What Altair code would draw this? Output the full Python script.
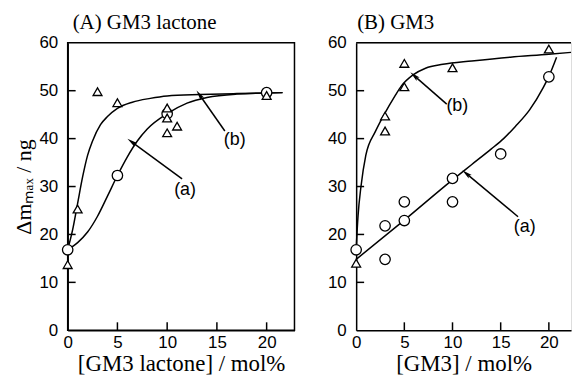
import altair as alt
import pandas as pd
import numpy as np

# ---------------- Panel A: GM3 lactone ----------------
a_tri_x = [0, 1, 3, 5, 10, 10, 10, 11, 20]
a_tri_y = [13.7, 25.3, 49.8, 47.5, 46.4, 44.3, 41.2, 42.6, 49.0]
a_cir_x = [0, 5, 10, 20]
a_cir_y = [16.8, 32.3, 45.2, 49.6]
a_curve_a_x = [0, 1, 2, 3, 4, 5, 6, 7, 8, 10, 12, 14, 17, 21.6]
a_curve_a_y = [16.8, 18.3, 20.5, 23.8, 28, 32.3, 36.2, 39.5, 42, 45.2, 47.4, 48.6, 49.3, 49.6]
a_curve_b_x = [0, 0.5, 1, 1.5, 2, 2.5, 3.3, 4, 5, 6.5, 8.3, 10, 13.3, 17, 21.6]
a_curve_b_y = [16.8, 21, 26.5, 32, 36.5, 39.5, 42.9, 44.6, 46.3, 47.6, 48.4, 48.9, 49.2, 49.4, 49.6]
a_labels = ["(a)", "(b)"]
a_label_x = [11.8, 16.8]
a_label_y = [29.2, 39.8]
a_arrow_x = [11.5, 15.8]
a_arrow_y = [31.6, 41.6]
a_tip_x = [6.5, 13.3]
a_tip_y = [39.2, 49.0]

# ---------------- Panel B: GM3 ----------------
b_tri_x = [0, 3, 3, 5, 5, 10, 20]
b_tri_y = [14.0, 44.7, 41.6, 55.7, 50.8, 54.8, 58.7]
b_cir_x = [0, 3, 3, 5, 5, 10, 10, 15, 20]
b_cir_y = [16.8, 21.8, 14.8, 26.8, 22.9, 31.7, 26.8, 36.8, 52.9]
b_curve_a_x = [0, 5, 10, 12, 14, 15.3, 16.5, 18, 19.4, 20, 20.8]
b_curve_a_y = [14.8, 23, 31.4, 34.6, 37.8, 40, 42.5, 46, 50.6, 53, 57]
b_curve_b_x = [0, 0.2, 0.5, 1, 2, 2.9, 4, 4.7, 5.9, 7.2, 9, 12, 16, 20, 22.3]
b_curve_b_y = [17, 24, 30, 36.5, 41.5, 45, 48.8, 51, 53.3, 54.7, 55.5, 56.2, 57, 57.6, 58]
b_labels = ["(a)", "(b)"]
b_label_x = [17.5, 10.5]
b_label_y = [21.6, 46.7]
b_arrow_x = [16.8, 9.4]
b_arrow_y = [23.7, 47.2]
b_tip_x = [11.5, 6.1]
b_tip_y = [32.6, 53.0]

x_tick_values = [5, 10, 15, 20]
y_tick_values = [10, 20, 30, 40, 50]
x_label_values = [0, 5, 10, 15, 20]
y_label_values = [0, 10, 20, 30, 40, 50, 60]

SANS = "Liberation Sans"
SERIF = "Liberation Serif"
H = 289
ARROW = "M0,-1 L0.38,0.7 L0,0.35 L-0.38,0.7 Z"


def panel(tri_x, tri_y, cir_x, cir_y, ca_x, ca_y, cb_x, cb_y,
          labels, lx, ly, ax, ay, tx, ty, xmax, width, xtitle, title,
          ytitle, frame, title_dx):
    xs = alt.Scale(domain=[0, xmax], nice=False, zero=False)
    ys = alt.Scale(domain=[0, 60], nice=False, zero=False)
    xaxis = alt.Axis(values=x_label_values, ticks=False, tickSize=0, grid=False,
                     domainColor="black", domainWidth=1.5, labelFont=SANS,
                     labelFontSize=17, labelColor="black", labelPadding=4,
                     title=xtitle, titleFont=SERIF, titleFontSize=23,
                     titleFontWeight="normal", titleColor="black", titlePadding=2,
                     labelFlush=False)
    yaxis_kw = dict(values=y_label_values, ticks=False, tickSize=0, grid=False,
                    domainColor="black", domainWidth=1.5, labelFont=SANS,
                    labelFontSize=17, labelColor="black", labelPadding=10,
                    labelFlush=False)
    if ytitle:
        yaxis = alt.Axis(title=ytitle, titleFont=SERIF, titleFontSize=22,
                         titleFontWeight="normal", titleColor="black",
                         titlePadding=3, **yaxis_kw)
    else:
        yaxis = alt.Axis(title=None, **yaxis_kw)

    X = lambda f: alt.X(f, type="quantitative", scale=xs, axis=xaxis)
    Y = lambda f: alt.Y(f, type="quantitative", scale=ys, axis=yaxis)

    curves = pd.DataFrame({
        "x": ca_x + cb_x,
        "y": ca_y + cb_y,
        "curve": ["a"] * len(ca_x) + ["b"] * len(cb_x),
    })
    lines = alt.Chart(curves).mark_line(color="black", strokeWidth=1.5,
                                         interpolate="monotone").encode(
        x=X("x"), y=Y("y"), detail="curve:N")

    tri = alt.Chart(pd.DataFrame({"x": tri_x, "y": tri_y})).mark_point(
        shape="triangle-up", filled=True, fill="white", stroke="black",
        strokeWidth=1.3, size=80, opacity=1).encode(x=X("x"), y=Y("y"))
    cir = alt.Chart(pd.DataFrame({"x": cir_x, "y": cir_y})).mark_point(
        shape="circle", filled=True, fill="white", stroke="black",
        strokeWidth=1.3, size=110, opacity=1).encode(x=X("x"), y=Y("y"))

    yt = alt.Chart(pd.DataFrame({"v": y_tick_values})).mark_rule(
        color="black", strokeWidth=1.5).encode(
        y=Y("v"), x=alt.value(0), x2=alt.value(8))
    xt = alt.Chart(pd.DataFrame({"v": x_tick_values})).mark_rule(
        color="black", strokeWidth=1.5).encode(
        x=X("v"), y=alt.value(H), y2=alt.value(H - 8))

    xpx = width / xmax
    ypx = H / 60.0
    ang = [float(np.degrees(np.arctan2((t - a) * xpx, (u - b) * ypx)) % 360)
           for a, b, t, u in zip(ax, ay, tx, ty)]
    ann = pd.DataFrame({"lab": labels, "lx": lx, "ly": ly, "ax": ax, "ay": ay,
                        "tx": tx, "ty": ty, "ang": ang})
    arr = alt.Chart(ann).mark_rule(color="black", strokeWidth=1.5).encode(
        x=X("ax"), y=Y("ay"), x2="tx", y2="ty")
    head = alt.Chart(ann).mark_point(shape=ARROW, filled=True, color="black",
                                     size=150, opacity=1).encode(
        x=X("tx"), y=Y("ty"), angle=alt.Angle("ang:Q", scale=None))
    txt = alt.Chart(ann).mark_text(font=SANS, fontSize=18, color="black").encode(
        x=X("lx"), y=Y("ly"), text="lab")

    layers = [lines, arr, head, txt, yt, xt, cir, tri]
    if not frame:
        top = alt.Chart(pd.DataFrame({"v": [60]})).mark_rule(
            color="black", strokeWidth=1.5).encode(
            y=Y("v"), x=alt.value(0), x2=alt.value(width))
        layers.append(top)

    ch = alt.layer(*layers).properties(
        width=width, height=H,
        title=alt.TitleParams(title, anchor="start", frame="group", font=SERIF,
                              fontSize=21, fontWeight="normal", color="black",
                              dx=title_dx, offset=1),
    )
    if frame:
        ch = ch.properties(view=alt.ViewBackground(stroke="black", strokeWidth=1.5))
    return ch


pa = panel(a_tri_x, a_tri_y, a_cir_x, a_cir_y, a_curve_a_x, a_curve_a_y,
           a_curve_b_x, a_curve_b_y, a_labels, a_label_x, a_label_y,
           a_arrow_x, a_arrow_y, a_tip_x, a_tip_y, 22.8, 228,
           "[GM3 lactone] / mol%", "(A) GM3 lactone", "Δmₘₐₓ / ng", True, 5)
pb = panel(b_tri_x, b_tri_y, b_cir_x, b_cir_y, b_curve_a_x, b_curve_a_y,
           b_curve_b_x, b_curve_b_y, b_labels, b_label_x, b_label_y,
           b_arrow_x, b_arrow_y, b_tip_x, b_tip_y, 22.3, 216,
           "[GM3] / mol%", "(B) GM3", None, False, 1)

chart = alt.hconcat(pa, pb, spacing=62, bounds="flush").properties(
    padding={"left": 4, "top": 2, "right": 0, "bottom": 0}
).configure_view(stroke="transparent").configure(background="white")

chart.save("out.html", embed_options={"renderer": "svg", "actions": False})
